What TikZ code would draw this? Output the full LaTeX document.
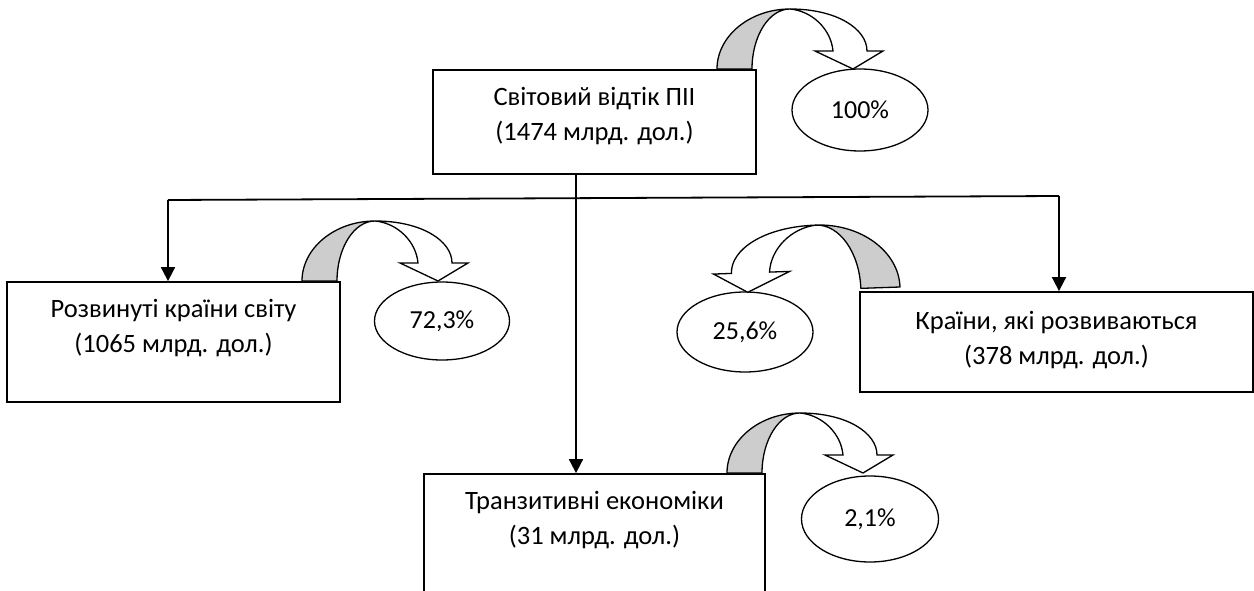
\documentclass[tikz,border=0pt]{standalone}
\usepackage{fontspec}
\setmainfont{Carlito}
\usetikzlibrary{shapes.geometric,arrows.meta}
\definecolor{bandgray}{RGB}{205,205,205}
\tikzset{
  box/.style={draw, line width=1.8pt, inner sep=0pt, fill=none},
  boxtext/.style={align=center, anchor=base, inner sep=0pt, font=\fontsize{26.5}{35}\selectfont},
  pct/.style={ellipse, draw, line width=1.3pt, inner sep=0pt, font=\fontsize{26}{30}\selectfont},
  conn/.style={line width=1.8pt},
  arr/.style={conn, -{Triangle[width=14pt,length=14pt]}},
  carrow/.pic={
    \filldraw[fill=bandgray, line width=1.3pt, line join=round]
      (0,0) -- (35,0) .. controls (35,-33) and (52,-60) .. (73,-60)
      .. controls (33,-60) and (0,-33) .. (0,0) -- cycle;
    \filldraw[fill=white, line width=1.3pt, line join=miter]
      (73,-60) .. controls (120,-60) and (150,-40) .. (150,-18)
      -- (166,-18) -- (136,0) -- (98,-18) -- (116,-18)
      .. controls (114,-40) and (95,-58) .. (73,-60) -- cycle;
  }
}
\begin{document}
\begin{tikzpicture}[x=1pt,y=-1pt]
\useasboundingbox (0,0) rectangle (1254,591);

% boxes
\node[box, minimum width=323pt, minimum height=104pt] (top) at (594.5,122) {};
\node[box, minimum width=333pt, minimum height=120pt] (dev) at (173.5,342) {};
\node[box, minimum width=393pt, minimum height=100pt] (ing) at (1056.5,342) {};
\node[box, minimum width=341pt, minimum height=166pt] (tr) at (594.5,557) {};

% texts (base = baseline of the last line)
\node[boxtext] (topt) at ([yshift=-71pt]top.north) {Світовий відтік ПІІ\\(1474 млрд. дол.)};
\node[boxtext] (devt) at ([yshift=-71pt]dev.north) {Розвинуті країни світу\\(1065 млрд. дол.)};
\node[boxtext] (ingt) at ([yshift=-73pt]ing.north) {Країни, які розвиваються\\(378 млрд. дол.)};
\node[boxtext] (trt) at ([yshift=-71pt]tr.north) {Транзитивні економіки\\(31 млрд. дол.)};

% percentage ellipses
\node[pct, minimum width=136pt, minimum height=82pt] (p100) at (860,110) {100\%};
\node[pct, minimum width=135pt, minimum height=78pt] (p723) at (442,321) {72,3\%};
\node[pct, minimum width=136pt, minimum height=80pt] (p256) at (745,332) {25,6\%};
\node[pct, minimum width=137pt, minimum height=86pt] (p21) at (870,519) {2,1\%};

% curved arrows
\pic at (717,69) {carrow};
\pic at (302,281) {carrow};
\pic at (727,473) {carrow};
\pic[rotate=2, xscale=-1.12, yscale=1.08] at (900,287) {carrow};

% connectors
\coordinate (hl) at (168,200);
\coordinate (hr) at (1059,196);
\coordinate (vx) at (576,0);
\draw[conn] (hl) -- (hr);
\draw[arr] (hl) -- (dev.north -| hl);
\draw[arr] (hr) -- (ing.north -| hr);
\draw[arr] (top.south -| vx) -- (tr.north -| vx);
\end{tikzpicture}
\end{document}
